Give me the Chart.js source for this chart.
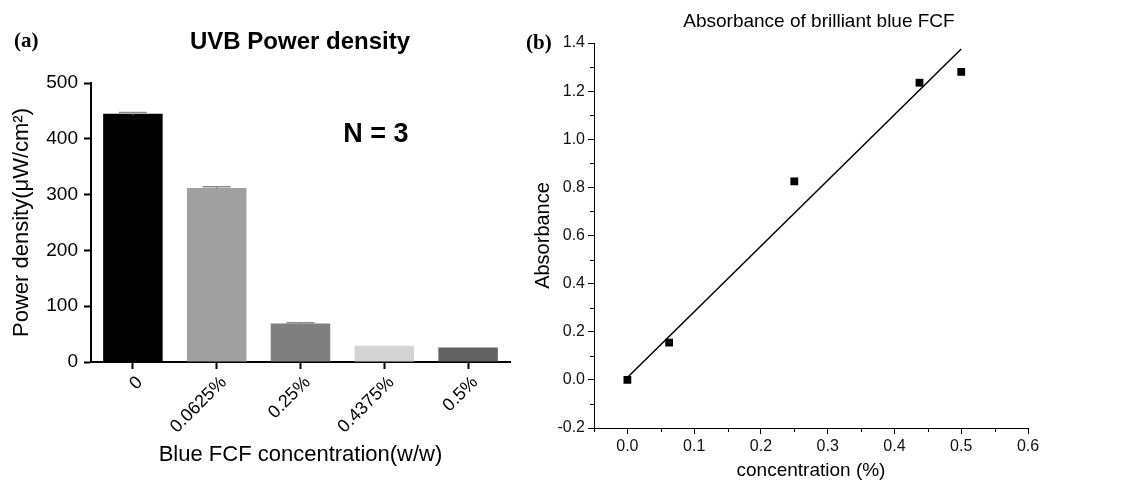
<!DOCTYPE html>
<html>
<head>
<meta charset="utf-8">
<script src="https://cdn.jsdelivr.net/npm/chart.js@4"></script>
<style>
  body { margin: 0; width: 1148px; height: 482px; background: #fff; position: relative; overflow: hidden; font-family: "Liberation Sans", Arial, sans-serif; }
  .box { position: absolute; top: 0; }
  .lbl { position: absolute; white-space: nowrap; line-height: 1; color: #000; }
  .panel { font-family: "Liberation Serif", "Times New Roman", serif; font-weight: bold; font-size: 21px; }
</style>
</head>
<body>
<div class="box" style="left:0"><canvas id="bars" width="520" height="482"></canvas></div>
<div class="box" style="left:520px"><canvas id="abs" width="628" height="482"></canvas></div>

<div class="lbl panel" style="left:14px; top:30px">(a)</div>
<div class="lbl panel" style="left:526px; top:32px">(b)</div>
<div class="lbl" style="left:300px; top:29px; transform:translateX(-50%); font-size:24px; font-weight:bold">UVB Power density</div>
<div class="lbl" style="left:376px; top:120px; transform:translateX(-50%); font-size:27px; font-weight:bold">N = 3</div>
<div class="lbl" style="left:819px; top:11px; transform:translateX(-50%); font-size:19px">Absorbance of brilliant blue FCF</div>

<script>
// ========= Dados =========
// painel (a) - densidade de potência UVB
const barLabels = ["0", "0.0625%", "0.25%", "0.4375%", "0.5%"];
const powerDensity = [445, 312, 69, 29, 26];
const powerErr = [2, 2, 1.5, 0, 0];
const powerTicks = [0, 100, 200, 300, 400, 500];

// painel (b) - absorbância
const concentration = [0, 0.0625, 0.25, 0.4375, 0.5];
const absorbance = [0, 0.155, 0.825, 1.235, 1.28];
const fitX = [0, 0.5];
const fitY = [0.01, 1.375];
const concTicks = [0, 0.1, 0.2, 0.3, 0.4, 0.5, 0.6];
const concMinor = [-0.05, 0.05, 0.15, 0.25, 0.35, 0.45, 0.55];
const absTicks = [-0.2, 0, 0.2, 0.4, 0.6, 0.8, 1.0, 1.2, 1.4];
const absMinor = [-0.1, 0.1, 0.3, 0.5, 0.7, 0.9, 1.1, 1.3];

const barColors = ["#000000", "#a0a0a0", "#7f7f7f", "#d4d4d4", "#626262"];
const FONT = "'Liberation Sans', Arial, sans-serif";

Chart.defaults.font.family = FONT;
Chart.defaults.color = "#000";

// ========= Barras de erro (tampinha) =========
const errorBars = {
  id: "errorBars",
  afterDatasetsDraw(chart) {
    const { ctx, scales } = chart;
    const meta = chart.getDatasetMeta(0);
    ctx.save();
    ctx.strokeStyle = "#8a8a8a";
    ctx.lineWidth = 1.5;
    meta.data.forEach((bar, i) => {
      if (!powerErr[i]) return;
      const yTop = scales.y.getPixelForValue(powerDensity[i] + powerErr[i]);
      const yMid = scales.y.getPixelForValue(powerDensity[i]);
      ctx.beginPath();
      ctx.moveTo(bar.x - 14, yTop);
      ctx.lineTo(bar.x + 14, yTop);
      ctx.moveTo(bar.x, yTop);
      ctx.lineTo(bar.x, yMid + 1);
      ctx.stroke();
    });
    ctx.restore();
  },
};

// ========= Ticks menores =========
const minorTicks = {
  id: "minorTicks",
  afterDraw(chart) {
    const { ctx, scales, chartArea } = chart;
    ctx.save();
    ctx.strokeStyle = "#000";
    ctx.lineWidth = 1;
    ctx.beginPath();
    for (const v of concMinor) {
      const x = Math.round(scales.x.getPixelForValue(v)) + 0.5;
      ctx.moveTo(x, chartArea.bottom);
      ctx.lineTo(x, chartArea.bottom + 4);
    }
    for (const v of absMinor) {
      const y = Math.round(scales.y.getPixelForValue(v)) + 0.5;
      ctx.moveTo(chartArea.left, y);
      ctx.lineTo(chartArea.left - 4, y);
    }
    ctx.stroke();
    ctx.restore();
  },
};

// ========= Gráfico (a) =========
new Chart(document.getElementById("bars"), {
  type: "bar",
  data: {
    labels: barLabels,
    datasets: [{
      data: powerDensity,
      backgroundColor: barColors,
      borderWidth: 0,
      barPercentage: 0.71,
      categoryPercentage: 1,
    }],
  },
  options: {
    responsive: false,
    animation: false,
    devicePixelRatio: 1,
    layout: { padding: { left: 4, top: 83, right: 10, bottom: 4 } },
    plugins: { legend: { display: false }, tooltip: { enabled: false } },
    scales: {
      x: {
        offset: true,
        grid: { offset: false, drawOnChartArea: false, drawTicks: true, tickLength: 7, tickWidth: 2, color: "#000" },
        border: { display: true, width: 2, color: "#000" },
        ticks: { autoSkip: false, minRotation: 45, maxRotation: 45, padding: 3, labelOffset: 7, font: { size: 18 } },
        title: { display: true, text: "Blue FCF concentration(w/w)", font: { size: 22 }, padding: { top: 0, bottom: 10 } },
        afterFit: (s) => { s.height = 116; },
      },
      y: {
        min: 0,
        max: 500,
        afterBuildTicks: (s) => { s.ticks = powerTicks.map((v) => ({ value: v })); },
        grid: { drawOnChartArea: false, drawTicks: true, tickLength: 7, tickWidth: 2, color: "#000" },
        border: { display: true, width: 2, color: "#000" },
        ticks: { padding: 6, font: { size: 19 } },
        title: { display: true, text: "Power density(μW/cm²)", font: { size: 22 }, padding: { top: 5, bottom: 0 } },
        afterFit: (s) => { s.width = 87; },
      },
    },
  },
  plugins: [errorBars],
});

// ========= Gráfico (b) =========
new Chart(document.getElementById("abs"), {
  type: "scatter",
  data: {
    datasets: [
      {
        data: concentration.map((x, i) => ({ x, y: absorbance[i] })),
        pointStyle: "rect",
        pointRadius: 5.5,
        backgroundColor: "#000",
        borderColor: "#000",
        borderWidth: 0,
      },
      {
        type: "line",
        data: fitX.map((x, i) => ({ x, y: fitY[i] })),
        borderColor: "#000",
        borderWidth: 1.5,
        pointRadius: 0,
        fill: false,
      },
    ],
  },
  options: {
    responsive: false,
    animation: false,
    devicePixelRatio: 1,
    layout: { padding: { left: 3, top: 43, right: 120, bottom: 0 } },
    plugins: { legend: { display: false }, tooltip: { enabled: false } },
    scales: {
      x: {
        type: "linear",
        min: -0.05,
        max: 0.6,
        afterBuildTicks: (s) => { s.ticks = concTicks.map((v) => ({ value: v })); },
        grid: { drawOnChartArea: false, drawTicks: true, tickLength: 6, tickWidth: 1, color: "#000" },
        border: { display: true, width: 1, color: "#000" },
        ticks: { padding: 3, font: { size: 16 }, color: "#111", callback: (v) => Number(v).toFixed(1) },
        title: { display: true, text: "concentration (%)", font: { size: 19 }, padding: { top: 0, bottom: 0 } },
        afterFit: (s) => { s.height = 54; },
      },
      y: {
        min: -0.2,
        max: 1.4,
        afterBuildTicks: (s) => { s.ticks = absTicks.map((v) => ({ value: v })); },
        grid: { drawOnChartArea: false, drawTicks: true, tickLength: 6, tickWidth: 1, color: "#000" },
        border: { display: true, width: 1, color: "#000" },
        ticks: { padding: 3, font: { size: 16 }, color: "#111", callback: (v) => Number(v).toFixed(1) },
        title: { display: true, text: "Absorbance", font: { size: 20 }, padding: { top: 8, bottom: 0 } },
        afterFit: (s) => { s.width = 71; },
      },
    },
  },
  plugins: [minorTicks],
});
</script>
</body>
</html>
